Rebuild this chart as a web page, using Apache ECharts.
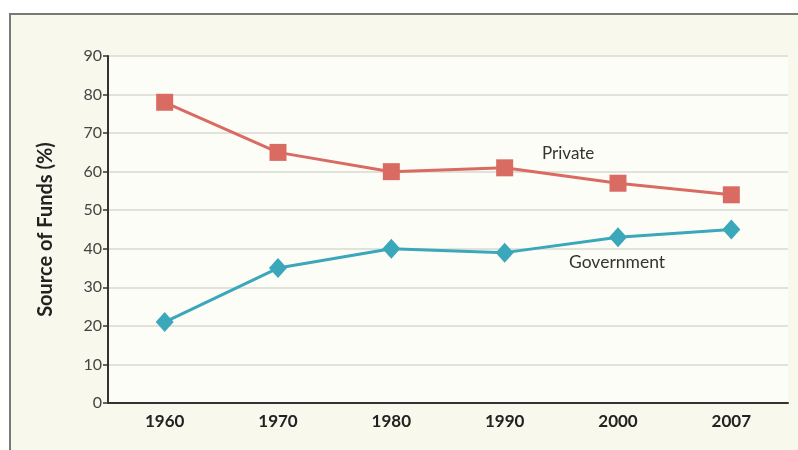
<!DOCTYPE html>
<html><head><meta charset="utf-8">
<script src="https://cdn.jsdelivr.net/npm/echarts@6/dist/echarts.min.js"></script>
<style>html,body{margin:0;padding:0;background:#fff}#c{width:798px;height:450px}</style>
</head><body><div id="c"></div>
<script>
const categories = ['1960','1970','1980','1990','2000','2007'];
const privateValues = [78, 65, 60, 61, 57, 54];
const governmentValues = [21, 35, 40, 39, 43, 45];
const yTicks = [0,10,20,30,40,50,60,70,80,90];

const chart = echarts.init(document.getElementById('c'), null, {renderer:'canvas'});
const font = 'Lato, "Open Sans", sans-serif';
chart.setOption({
  animation:false,
  backgroundColor:'#ffffff',
  graphic:[
    {type:'rect', z:-10, shape:{x:10,y:14,width:800,height:450}, style:{fill:'#f8f9ec', stroke:'#7a7a72', lineWidth:2}},
    {type:'text', left:542, top:145, z:10, style:{text:'Private', font:'17px '+font, fill:'#333'}},
    {type:'text', left:569, top:253, z:10, style:{text:'Government', font:'17.5px '+font, fill:'#333'}}
  ],
  grid:{left:108, right:10, top:56, bottom:47, show:true, backgroundColor:'#fdfdf8', borderWidth:0},
  xAxis:{type:'category', data:categories, boundaryGap:true,
    axisLine:{lineStyle:{color:'#333', width:2}}, axisTick:{show:false},
    axisLabel:{color:'#222', fontWeight:'bold', fontSize:17, fontFamily:font, margin:10}},
  yAxis:{type:'value', min:0, max:90, interval:10,
    name:'Source of Funds (%)', nameLocation:'middle', nameGap:52, nameRotate:90,
    nameTextStyle:{color:'#222', fontWeight:'bold', fontSize:20, fontFamily:font},
    axisLine:{show:true, lineStyle:{color:'#333', width:2}},
    axisTick:{show:true, length:5, lineStyle:{color:'#333', width:1.5}},
    axisLabel:{color:'#444', fontSize:16, fontFamily:font, margin:6,
      formatter:v=>yTicks.includes(v)?String(v):''},
    splitLine:{lineStyle:{color:'#e2e2dc', width:2}}},
  series:[
    {name:'Private', type:'line', data:privateValues, symbol:'rect', symbolSize:17,
      lineStyle:{color:'#d96b63', width:3}, itemStyle:{color:'#d96b63'}},
    {name:'Government', type:'line', data:governmentValues, symbol:'diamond', symbolSize:[18,20],
      lineStyle:{color:'#3aa7ba', width:3}, itemStyle:{color:'#3aa7ba'}}
  ]
});
</script></body></html>
